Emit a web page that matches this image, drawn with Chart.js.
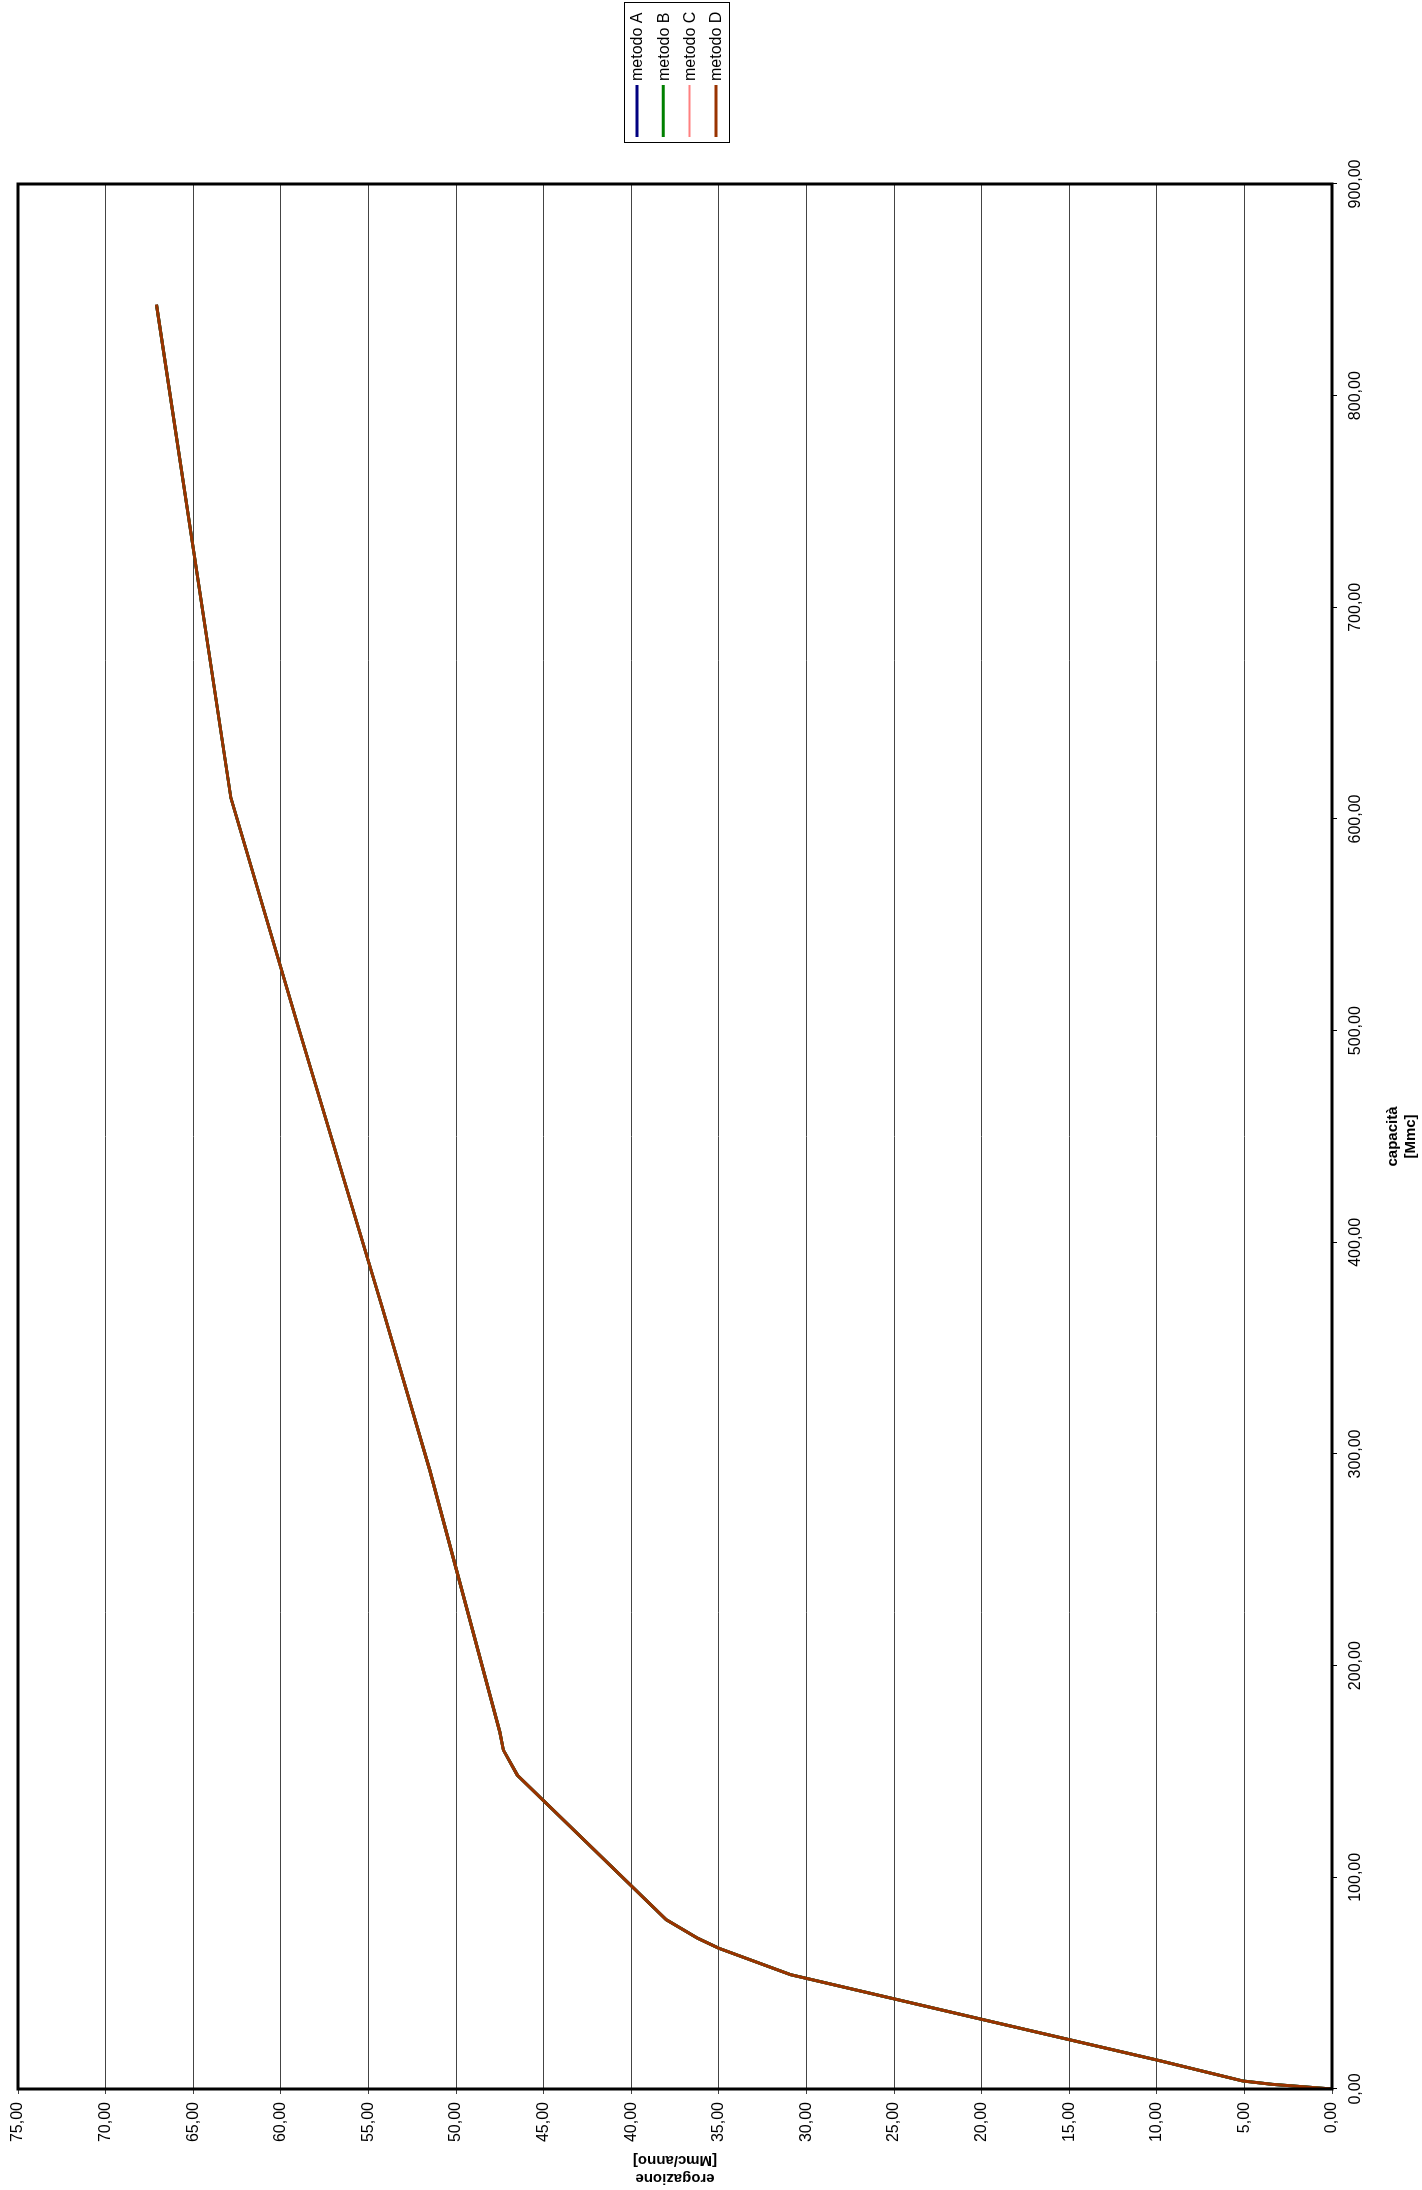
<!DOCTYPE html>
<html>
<head>
<meta charset="utf-8">
<script src="https://cdn.jsdelivr.net/npm/chart.js@4/dist/chart.umd.min.js"></script>
<style>
html, body { margin:0; padding:0; background:#fff; overflow:hidden; }
/* chart is drawn landscape, then turned a quarter left to fill the portrait page */
#wrap { position:absolute; left:0; top:0; width:2190px; height:1422px;
  transform-origin:0 0; transform:translate(0, 2190px) rotate(-90deg); }
</style>
</head>
<body>
<div id="wrap"><canvas id="myChart" width="2190" height="1422"></canvas></div>
<script>
// capacita [Mmc] vs erogazione [Mmc/anno]; the four methods lie on top of each other
const capacita   = [0, 2.2, 3.8, 13.7, 31.0, 54.0, 66.5, 71.2, 80.0, 148.3, 160.2, 168.8, 292.4, 369.0, 501.6, 610.0, 843.0];
const erogazione = [0, 3.4, 5.1, 10.0, 19.0, 30.9, 35.0, 36.2, 38.0, 46.5, 47.3, 47.5, 51.5, 54.2, 59.0, 62.85, 67.1];
const metodi = ['metodo A', 'metodo B', 'metodo C', 'metodo D'];
const colori = ['#000080', '#008000', '#ff8080', '#993300'];
const spessori = [3, 3, 2, 3];

var myChart;
const fontFamily = "'Liberation Sans', Arial, sans-serif";
Chart.defaults.font.family = fontFamily;
Chart.defaults.color = '#000';

const virgola = (v) => Number(v).toFixed(2).replace('.', ',');

const punti = capacita.map((c, i) => ({ x: c, y: erogazione[i] }));

const datasets = metodi.map((m, i) => ({
  label: m,
  data: punti,
  borderColor: colori[i],
  backgroundColor: colori[i],
  borderWidth: spessori[i],
  pointRadius: 0,
  tension: 0,
  order: metodi.length - i   // metodo D drawn on top
}));

const cornice = {
  id: 'cornice',
  afterDraw: function (chart) {
    const a = chart.chartArea;
    const ctx = chart.ctx;
    ctx.save();
    ctx.strokeStyle = '#000';
    ctx.lineWidth = 3;
    ctx.strokeRect(a.left, a.top, a.right - a.left, a.bottom - a.top);
    ctx.restore();
  }
};

// boxed legend at the right side (top of the page once turned)
const legenda = {
  id: 'legenda',
  afterDraw: function (chart) {
    const ctx = chart.ctx;
    const x0 = 2047, y0 = 624, w = 140, h = 105;
    ctx.save();
    ctx.fillStyle = '#fff';
    ctx.fillRect(x0, y0, w, h);
    ctx.strokeStyle = '#000';
    ctx.lineWidth = 1;
    ctx.strokeRect(x0 + 0.5, y0 + 0.5, w, h);
    ctx.font = '16px ' + fontFamily;
    ctx.textBaseline = 'middle';
    ctx.textAlign = 'left';
    chart.data.datasets.forEach((ds, i) => {
      const y = 637 + i * 26.3;
      ctx.strokeStyle = ds.borderColor;
      ctx.lineWidth = ds.borderWidth;
      ctx.beginPath();
      ctx.moveTo(2053, y);
      ctx.lineTo(2105, y);
      ctx.stroke();
      ctx.fillStyle = '#000';
      ctx.fillText(ds.label, 2109, y + 1);
    });
    ctx.restore();
  }
};

const Config = {
  type: 'line',
  data: { datasets: datasets },
  plugins: [cornice, legenda],
  options: {
    responsive: false,
    animation: false,
    layout: { padding: { left: 0, top: 18, right: 184, bottom: 0 } },
    plugins: {
      legend: { display: false },
      tooltip: { enabled: false }
    },
    scales: {
      x: {
        type: 'linear',
        min: 0,
        max: 900,
        afterFit: (s) => { s.height = 90; },
        border: { display: false },
        grid: { drawOnChartArea: false, drawTicks: true, tickLength: 5, color: '#000' },
        ticks: { stepSize: 100, autoSkip: false, maxRotation: 0, padding: 9,
                 font: { size: 16 }, callback: virgola },
        title: { display: true, text: ['capacità', '[Mmc]'],
                 font: { size: 15, weight: 'bold', lineHeight: 1.2 },
                 padding: { top: 0, bottom: 2 } }
      },
      y: {
        type: 'linear',
        min: 0,
        max: 75,
        afterFit: (s) => { s.width = 101; },
        border: { display: false },
        grid: { drawOnChartArea: true, drawTicks: true, tickLength: 5, color: '#444', lineWidth: 1 },
        ticks: { stepSize: 5, padding: 8, font: { size: 16 }, callback: virgola },
        title: { display: true, text: ['erogazione', '[Mmc/anno]'],
                 font: { size: 15, weight: 'bold', lineHeight: 1.2 },
                 padding: { top: 3, bottom: 0 } }
      }
    }
  }
};

myChart = new Chart(document.getElementById('myChart'), Config);
</script>
</body>
</html>
